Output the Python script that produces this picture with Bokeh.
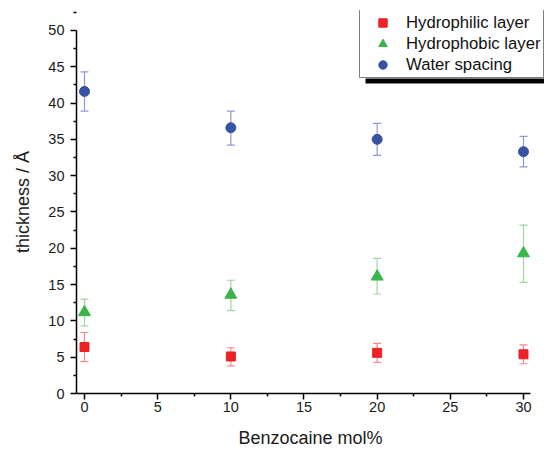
from bokeh.plotting import figure
from bokeh.models import Range1d, Whisker, ColumnDataSource, Legend, LegendItem, BoxAnnotation, FixedTicker
from bokeh.embed import file_html
from bokeh.resources import INLINE

mol = [0, 10, 20, 30]
philic = [6.4, 5.1, 5.6, 5.4]
philic_lo = [4.4, 3.8, 4.3, 4.1]
philic_hi = [8.4, 6.3, 6.9, 6.7]
phobic = [11.2, 13.6, 16.1, 19.3]
phobic_lo = [9.3, 11.4, 13.7, 15.3]
phobic_hi = [13.0, 15.6, 18.6, 23.2]
water = [41.6, 36.6, 35.0, 33.3]
water_lo = [38.9, 34.2, 32.8, 31.2]
water_hi = [44.3, 38.9, 37.2, 35.4]
x_ticks = [0, 5, 10, 15, 20, 25, 30]
y_ticks = [0, 5, 10, 15, 20, 25, 30, 35, 40, 45, 50]

FONT = "Liberation Sans"

p = figure(width=544, height=450, output_backend="svg", toolbar_location=None,
           x_range=Range1d(-0.5467, 31.436), y_range=Range1d(0, 52.747),
           min_border_left=76, min_border_right=0, min_border_top=10, min_border_bottom=56)
p.outline_line_color = None
p.xgrid.visible = False
p.ygrid.visible = False

for ax, ticks in ((p.xaxis, x_ticks), (p.yaxis, y_ticks)):
    ax.ticker = FixedTicker(ticks=ticks, minor_ticks=[t + 2.5 for t in ticks])
    ax.axis_line_width = 1.5
    ax.axis_line_color = "black"
    ax.major_tick_line_color = "black"
    ax.minor_tick_line_color = "black"
    ax.major_tick_line_width = 1.5
    ax.minor_tick_line_width = 1.5
    ax.major_tick_out = 6
    ax.major_tick_in = 0
    ax.minor_tick_out = 3
    ax.minor_tick_in = 0
    ax.major_label_text_font = FONT
    ax.major_label_text_font_size = "14.5px"
    ax.major_label_text_color = "#1a1a1a"
    ax.axis_label_text_font = FONT
    ax.axis_label_text_font_size = "18px"
    ax.axis_label_text_font_style = "normal"
    ax.axis_label_text_color = "#1a1a1a"

p.xaxis.bounds = (-0.5467, 30.48)
p.yaxis.bounds = (0, 50)
p.xaxis.axis_label = "Benzocaine mol%"
p.yaxis.axis_label = "thickness / Å"
p.xaxis.major_label_standoff = 2
p.yaxis.major_label_standoff = 6
p.xaxis.axis_label_standoff = 13
p.yaxis.axis_label_standoff = 12

series = [
    ("Hydrophilic layer", philic, philic_lo, philic_hi, "#ec2227", "#f28b8d", "square", 9),
    ("Hydrophobic layer", phobic, phobic_lo, phobic_hi, "#3ab54a", "#9fd69f", "triangle", 12),
    ("Water spacing", water, water_lo, water_hi, "#3853a4", "#8e9bd0", "circle", 10),
]

items = []
for name, vals, lo, hi, col, ecol, mk, sz in series:
    src = ColumnDataSource(dict(x=mol, y=vals, lo=lo, hi=hi))
    w = Whisker(source=src, base="x", upper="hi", lower="lo", line_color=ecol, line_width=1.2)
    w.upper_head.size = 8
    w.lower_head.size = 8
    w.upper_head.line_color = ecol
    w.lower_head.line_color = ecol
    w.upper_head.line_width = 1.2
    w.lower_head.line_width = 1.2
    p.add_layout(w)
    r = p.scatter("x", "y", source=src, marker=mk, size=sz, fill_color=col, line_color=col)
    items.append(LegendItem(label=name, renderers=[r]))

shadow = BoxAnnotation(left=365, right=544, top=78, bottom=83,
                       left_units="canvas", right_units="canvas", top_units="canvas", bottom_units="canvas",
                       fill_color="black", fill_alpha=1.0, line_color=None)
p.add_layout(shadow)

legend = Legend(items=items, location=(283, 315), padding=2, spacing=0,
                label_height=21, glyph_height=21, glyph_width=41, label_standoff=3,
                label_text_font=FONT, label_text_font_size="16.7px", label_text_color="#111111",
                border_line_color="black", border_line_width=1,
                background_fill_color="white", background_fill_alpha=1.0, margin=0)
p.add_layout(legend)

open("out.html", "w").write(file_html(p, INLINE))
